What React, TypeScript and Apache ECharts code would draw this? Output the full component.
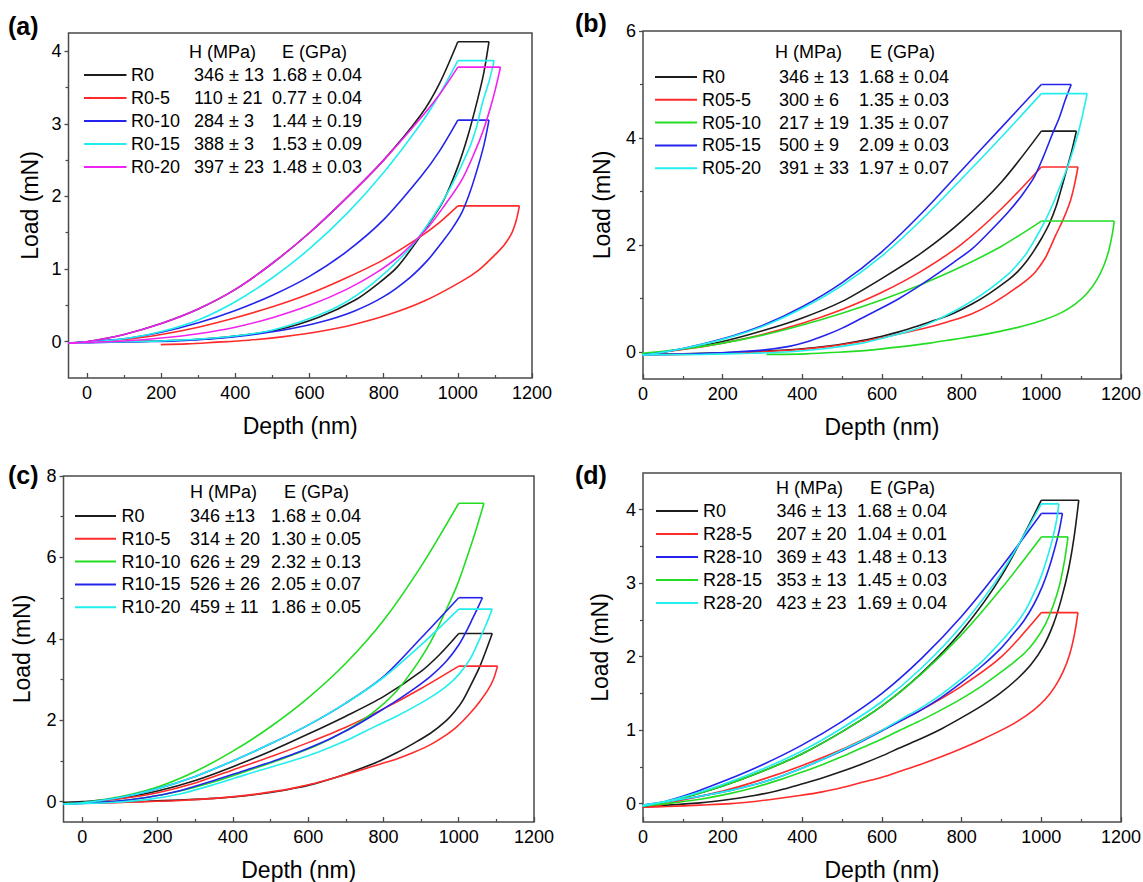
import React, { useEffect, useRef } from "react";
import * as echarts from "echarts";

type Pt = [number, number];

// ---------- axis ticks ----------
const X_TICKS = [0, 200, 400, 600, 800, 1000, 1200];
const X_MINOR = [100, 300, 500, 700, 900, 1100];
const A_YTICKS = [0, 1, 2, 3, 4];
const A_YMINOR = [0.5, 1.5, 2.5, 3.5];
const B_YTICKS = [0, 2, 4, 6];
const B_YMINOR = [1, 3, 5];
const C_YTICKS = [0, 2, 4, 6, 8];
const C_YMINOR = [1, 3, 5, 7];
const D_YTICKS = [0, 1, 2, 3, 4];
const D_YMINOR = [0.5, 1.5, 2.5, 3.5];

// ---------- panel (a) ----------
const A0_LOAD: Pt[] = [[-50, -0.02], [0, 0], [100, 0.1], [200, 0.25], [300, 0.45], [400, 0.72], [500, 1.08], [600, 1.5], [700, 1.98], [800, 2.5], [900, 3.12], [950, 3.55], [1000, 4.13]];
const A0_UNLOAD: Pt[] = [[1084, 4.13], [1070, 3.7], [1053, 3.33], [1028, 2.85], [1000, 2.41], [962, 1.95], [904, 1.49], [837, 1.03], [780, 0.78], [722, 0.57], [627, 0.34], [512, 0.16], [388, 0.07], [290, 0.03], [196, 0.01], [100, 0], [0, -0.01], [-50, -0.02]];
const A5_LOAD: Pt[] = [[-50, -0.02], [0, 0], [100, 0.03], [200, 0.1], [300, 0.2], [400, 0.33], [500, 0.48], [600, 0.66], [700, 0.88], [800, 1.13], [900, 1.45], [950, 1.64], [1000, 1.87]];
const A5_UNLOAD: Pt[] = [[1166, 1.87], [1158, 1.68], [1145, 1.49], [1125, 1.33], [1105, 1.22], [1057, 0.99], [1010, 0.83], [914, 0.57], [818, 0.38], [722, 0.24], [627, 0.14], [531, 0.07], [435, 0.02], [340, -0.01], [270, -0.03], [199, -0.04]];
const A10_LOAD: Pt[] = [[-50, -0.02], [0, 0], [100, 0.04], [200, 0.13], [300, 0.26], [400, 0.43], [500, 0.64], [600, 0.9], [700, 1.24], [800, 1.68], [900, 2.27], [950, 2.62], [1000, 3.05]];
const A10_UNLOAD: Pt[] = [[1084, 3.05], [1070, 2.7], [1048, 2.3], [1030, 2.02], [1010, 1.77], [985, 1.56], [962, 1.4], [920, 1.13], [870, 0.88], [800, 0.62], [720, 0.42], [630, 0.27], [530, 0.16], [435, 0.09], [340, 0.04], [240, 0.01], [140, 0], [40, -0.01], [-50, -0.02]];
const A15_LOAD: Pt[] = [[-50, -0.02], [0, -0.01], [100, 0.04], [200, 0.14], [300, 0.3], [400, 0.55], [500, 0.88], [600, 1.28], [700, 1.76], [800, 2.33], [900, 3.0], [950, 3.4], [1000, 3.87]];
const A15_UNLOAD: Pt[] = [[1098, 3.87], [1085, 3.6], [1067, 3.3], [1050, 2.95], [1029, 2.64], [981, 2.13], [933, 1.72], [866, 1.26], [770, 0.8], [675, 0.48], [579, 0.28], [483, 0.14], [340, 0.05], [200, 0.01], [100, 0], [0, -0.01], [-50, -0.02]];
const A20_LOAD: Pt[] = [[-50, -0.02], [0, 0], [100, 0.1], [200, 0.25], [300, 0.45], [400, 0.72], [500, 1.08], [600, 1.5], [700, 1.98], [800, 2.5], [900, 3.08], [950, 3.4], [1000, 3.78]];
const A20_UNLOAD: Pt[] = [[1115, 3.78], [1100, 3.45], [1086, 3.19], [1068, 2.9], [1048, 2.64], [1010, 2.22], [962, 1.86], [914, 1.54], [847, 1.2], [780, 0.95], [700, 0.72], [600, 0.5], [500, 0.33], [400, 0.2], [300, 0.11], [200, 0.05], [100, 0.01], [0, -0.01], [-50, -0.02]];

// ---------- panel (b) ----------
const B0_LOAD: Pt[] = [[-50, -0.05], [0, -0.04], [100, 0.06], [200, 0.2], [300, 0.4], [400, 0.64], [500, 0.95], [600, 1.38], [700, 1.86], [800, 2.45], [900, 3.18], [1000, 4.13]];
const B0_UNLOAD: Pt[] = [[1088, 4.13], [1076, 3.75], [1064, 3.42], [1050, 3.05], [1037, 2.72], [1020, 2.4], [1000, 2.12], [980, 1.88], [963, 1.7], [940, 1.5], [917, 1.35], [870, 1.1], [826, 0.9], [780, 0.73], [734, 0.6], [690, 0.49], [642, 0.38], [600, 0.3], [550, 0.22], [470, 0.12], [394, 0.06], [300, 0.02], [200, -0.01], [100, -0.03], [0, -0.04]];
const B5_LOAD: Pt[] = [[-50, -0.05], [0, -0.04], [100, 0.05], [200, 0.17], [300, 0.33], [400, 0.54], [500, 0.8], [600, 1.12], [700, 1.52], [800, 2.02], [900, 2.68], [1000, 3.46]];
const B5_UNLOAD: Pt[] = [[1092, 3.46], [1083, 3.12], [1073, 2.83], [1056, 2.5], [1037, 2.2], [1022, 1.95], [1009, 1.75], [985, 1.5], [960, 1.33], [917, 1.1], [870, 0.88], [826, 0.72], [780, 0.6], [734, 0.5], [690, 0.42], [642, 0.34], [600, 0.27], [550, 0.2], [470, 0.11], [394, 0.05], [300, 0.01], [200, -0.02], [100, -0.04], [0, -0.05]];
const B10_LOAD: Pt[] = [[-50, -0.05], [0, -0.02], [100, 0.06], [200, 0.17], [300, 0.32], [400, 0.51], [500, 0.73], [600, 0.98], [700, 1.27], [800, 1.6], [900, 1.98], [1000, 2.45]];
const B10_UNLOAD: Pt[] = [[1183, 2.45], [1178, 2.2], [1170, 1.92], [1158, 1.64], [1140, 1.36], [1115, 1.1], [1085, 0.9], [1048, 0.73], [1005, 0.6], [950, 0.48], [896, 0.39], [840, 0.31], [780, 0.24], [720, 0.17], [645, 0.1], [570, 0.04], [490, 0.0], [410, -0.03], [310, -0.04]];
const B15_LOAD: Pt[] = [[-50, -0.06], [0, -0.05], [100, 0.07], [200, 0.25], [300, 0.5], [400, 0.85], [500, 1.3], [600, 1.88], [700, 2.6], [800, 3.4], [900, 4.2], [1000, 5.0]];
const B15_UNLOAD: Pt[] = [[1075, 5.0], [1060, 4.71], [1045, 4.38], [1028, 4.08], [1005, 3.65], [982, 3.27], [950, 2.92], [917, 2.62], [870, 2.25], [826, 1.93], [780, 1.68], [734, 1.44], [690, 1.22], [642, 1.0], [600, 0.83], [550, 0.64], [500, 0.45], [459, 0.32], [410, 0.19], [367, 0.11], [300, 0.04], [220, 0.0], [120, -0.03], [0, -0.05]];
const B20_LOAD: Pt[] = [[-50, -0.06], [0, -0.05], [100, 0.07], [200, 0.24], [300, 0.48], [400, 0.82], [500, 1.25], [600, 1.8], [700, 2.48], [800, 3.24], [900, 4.02], [1000, 4.83]];
const B20_UNLOAD: Pt[] = [[1115, 4.83], [1104, 4.45], [1092, 4.08], [1070, 3.55], [1046, 3.08], [1028, 2.75], [1009, 2.45], [985, 2.12], [963, 1.85], [940, 1.64], [917, 1.46], [870, 1.18], [826, 0.96], [780, 0.76], [734, 0.59], [690, 0.45], [642, 0.34], [595, 0.25], [550, 0.17], [460, 0.07], [370, 0.01], [270, -0.02], [150, -0.04], [0, -0.05]];

// ---------- panel (c) ----------
const C0_LOAD: Pt[] = [[-50, -0.02], [0, 0], [100, 0.08], [200, 0.26], [300, 0.52], [400, 0.86], [500, 1.24], [600, 1.66], [700, 2.1], [800, 2.58], [900, 3.2], [950, 3.62], [1000, 4.13]];
const C0_UNLOAD: Pt[] = [[1089, 4.13], [1072, 3.7], [1055, 3.3], [1033, 2.88], [1011, 2.49], [990, 2.22], [967, 1.99], [925, 1.68], [878, 1.42], [835, 1.2], [790, 1.0], [745, 0.83], [701, 0.68], [657, 0.55], [613, 0.43], [570, 0.34], [524, 0.26], [440, 0.15], [350, 0.08], [259, 0.04], [170, 0.01], [80, -0.01], [-50, -0.02]];
const C5_LOAD: Pt[] = [[-50, -0.05], [0, -0.03], [100, 0.07], [200, 0.22], [300, 0.46], [400, 0.78], [500, 1.1], [600, 1.45], [700, 1.83], [800, 2.28], [900, 2.78], [1000, 3.33]];
const C5_UNLOAD: Pt[] = [[1103, 3.33], [1092, 3.0], [1076, 2.72], [1055, 2.45], [1033, 2.2], [1011, 1.98], [990, 1.8], [967, 1.64], [925, 1.4], [878, 1.2], [835, 1.05], [790, 0.92], [745, 0.79], [701, 0.67], [657, 0.55], [613, 0.44], [570, 0.35], [524, 0.27], [440, 0.16], [350, 0.08], [259, 0.03], [170, 0.0], [80, -0.03], [-50, -0.05]];
const C10_LOAD: Pt[] = [[-50, -0.05], [0, -0.02], [100, 0.12], [200, 0.36], [300, 0.74], [400, 1.24], [500, 1.84], [600, 2.55], [700, 3.4], [800, 4.45], [900, 5.78], [1000, 7.33]];
const C10_UNLOAD: Pt[] = [[1067, 7.33], [1045, 6.65], [1020, 5.95], [995, 5.3], [967, 4.72], [925, 3.92], [878, 3.23], [835, 2.72], [790, 2.32], [745, 2.0], [701, 1.75], [657, 1.53], [613, 1.34], [525, 1.03], [436, 0.75], [350, 0.49], [259, 0.26], [170, 0.1], [80, 0.0], [-50, -0.05]];
const C15_LOAD: Pt[] = [[-50, -0.06], [0, -0.03], [100, 0.1], [200, 0.32], [300, 0.62], [400, 1.0], [500, 1.42], [600, 1.88], [700, 2.42], [800, 3.07], [900, 4.02], [1000, 5.01]];
const C15_UNLOAD: Pt[] = [[1063, 5.01], [1050, 4.75], [1037, 4.5], [1020, 4.18], [1000, 3.85], [967, 3.45], [925, 3.08], [878, 2.75], [835, 2.48], [790, 2.22], [745, 1.97], [701, 1.74], [657, 1.54], [613, 1.36], [570, 1.2], [524, 1.05], [480, 0.91], [436, 0.78], [350, 0.52], [259, 0.27], [170, 0.1], [80, 0.0], [-50, -0.06]];
const C20_LOAD: Pt[] = [[-50, -0.06], [0, -0.03], [100, 0.1], [200, 0.32], [300, 0.62], [400, 1.0], [500, 1.42], [600, 1.88], [700, 2.42], [800, 3.05], [900, 3.85], [1000, 4.73]];
const C20_UNLOAD: Pt[] = [[1089, 4.73], [1075, 4.4], [1055, 3.98], [1030, 3.5], [1000, 3.12], [967, 2.83], [925, 2.56], [878, 2.31], [835, 2.1], [790, 1.9], [745, 1.7], [701, 1.5], [657, 1.33], [613, 1.17], [570, 1.04], [524, 0.91], [480, 0.79], [436, 0.67], [350, 0.42], [259, 0.19], [170, 0.05], [80, -0.02], [-50, -0.06]];

// ---------- panel (d) ----------
const D0_LOAD: Pt[] = [[-50, -0.04], [0, -0.03], [100, 0.08], [200, 0.24], [300, 0.44], [400, 0.68], [500, 0.98], [600, 1.33], [700, 1.78], [800, 2.35], [900, 3.1], [1000, 4.13]];
const D0_UNLOAD: Pt[] = [[1094, 4.13], [1082, 3.62], [1068, 3.18], [1050, 2.78], [1030, 2.44], [1005, 2.14], [975, 1.9], [940, 1.7], [896, 1.5], [850, 1.33], [800, 1.17], [750, 1.02], [700, 0.89], [645, 0.76], [600, 0.65], [550, 0.54], [500, 0.44], [450, 0.35], [394, 0.26], [340, 0.18], [280, 0.11], [220, 0.06], [143, 0.01], [60, -0.02], [0, -0.03]];
const D5_LOAD: Pt[] = [[-50, -0.05], [0, -0.05], [100, 0.05], [200, 0.17], [300, 0.33], [400, 0.52], [500, 0.74], [600, 1.0], [700, 1.28], [800, 1.6], [900, 2.0], [1000, 2.6]];
const D5_UNLOAD: Pt[] = [[1092, 2.6], [1083, 2.3], [1071, 2.03], [1055, 1.8], [1035, 1.6], [1010, 1.42], [980, 1.27], [940, 1.12], [900, 1.0], [850, 0.87], [800, 0.75], [750, 0.64], [700, 0.54], [645, 0.44], [600, 0.36], [550, 0.29], [500, 0.22], [450, 0.16], [394, 0.11], [340, 0.07], [280, 0.03], [220, 0.0], [143, -0.02], [60, -0.04], [0, -0.05]];
const D10_LOAD: Pt[] = [[-50, -0.05], [0, -0.04], [100, 0.1], [200, 0.3], [300, 0.53], [400, 0.8], [500, 1.12], [600, 1.5], [700, 1.98], [800, 2.55], [900, 3.22], [1000, 3.95]];
const D10_UNLOAD: Pt[] = [[1053, 3.95], [1045, 3.72], [1035, 3.5], [1020, 3.22], [1002, 2.95], [980, 2.7], [955, 2.48], [925, 2.28], [896, 2.1], [850, 1.87], [800, 1.65], [750, 1.45], [700, 1.28], [645, 1.12], [600, 0.99], [550, 0.85], [500, 0.72], [450, 0.6], [394, 0.47], [340, 0.36], [280, 0.26], [220, 0.18], [143, 0.1], [60, 0.03], [0, -0.02]];
const D15_LOAD: Pt[] = [[-50, -0.04], [0, -0.03], [100, 0.08], [200, 0.24], [300, 0.44], [400, 0.68], [500, 0.98], [600, 1.33], [700, 1.77], [800, 2.3], [900, 2.93], [1000, 3.63]];
const D15_UNLOAD: Pt[] = [[1067, 3.63], [1058, 3.3], [1046, 2.98], [1030, 2.7], [1010, 2.44], [985, 2.22], [960, 2.06], [930, 1.92], [896, 1.78], [850, 1.6], [800, 1.43], [750, 1.28], [700, 1.14], [645, 1.0], [600, 0.88], [550, 0.76], [500, 0.64], [450, 0.53], [394, 0.42], [340, 0.32], [280, 0.22], [220, 0.14], [143, 0.06], [60, 0.0], [0, -0.03]];
const D20_LOAD: Pt[] = [[-50, -0.04], [0, -0.03], [100, 0.09], [200, 0.26], [300, 0.47], [400, 0.72], [500, 1.03], [600, 1.39], [700, 1.85], [800, 2.42], [900, 3.14], [1000, 4.08]];
const D20_UNLOAD: Pt[] = [[1044, 4.08], [1038, 3.85], [1028, 3.6], [1015, 3.35], [1000, 3.1], [982, 2.87], [960, 2.63], [930, 2.4], [896, 2.19], [850, 1.93], [800, 1.7], [750, 1.49], [700, 1.31], [645, 1.14], [600, 1.0], [550, 0.86], [500, 0.73], [450, 0.6], [394, 0.47], [340, 0.36], [280, 0.26], [220, 0.18], [143, 0.1], [60, 0.03], [0, -0.02]];

// ---------- legend texts ----------
const A_NAMES = ["R0", "R0-5", "R0-10", "R0-15", "R0-20"];
const A_H = ["346 ± 13", "110 ± 21", "284 ± 3", "388 ± 3", "397 ± 23"];
const A_E = ["1.68 ± 0.04", "0.77 ± 0.04", "1.44 ± 0.19", "1.53 ± 0.09", "1.48 ± 0.03"];
const B_NAMES = ["R0", "R05-5", "R05-10", "R05-15", "R05-20"];
const B_H = ["346 ± 13", "300 ± 6", "217 ± 19", "500 ± 9", "391 ± 33"];
const B_E = ["1.68 ± 0.04", "1.35 ± 0.03", "1.35 ± 0.07", "2.09 ± 0.03", "1.97 ± 0.07"];
const C_NAMES = ["R0", "R10-5", "R10-10", "R10-15", "R10-20"];
const C_H = ["346 ±13", "314 ± 20", "626 ± 29", "526 ± 26", "459 ± 11"];
const C_E = ["1.68 ± 0.04", "1.30 ± 0.05", "2.32 ± 0.13", "2.05 ± 0.07", "1.86 ± 0.05"];
const D_NAMES = ["R0", "R28-5", "R28-10", "R28-15", "R28-20"];
const D_H = ["346 ± 13", "207 ± 20", "369 ± 43", "353 ± 13", "423 ± 23"];
const D_E = ["1.68 ± 0.04", "1.04 ± 0.01", "1.48 ± 0.13", "1.45 ± 0.03", "1.69 ± 0.04"];

// ---------- styling ----------
const FONT = '"Liberation Sans", Arial, Helvetica, sans-serif';
const BLACK = "#1c1c1c";
const RED = "#ff2a2a";
const BLUE = "#2424ee";
const CYAN = "#22eeee";
const MAGENTA = "#f022f0";
const GREEN = "#22dd22";
const AXIS = "#4a4a4a";

interface Curve { color: string; load: Pt[]; unload: Pt[] }
interface Panel {
  label: string; labelX: number; labelY: number;
  grid: { left: number; top: number; width: number; height: number };
  xMin: number; yMin: number; yMax: number; yTicks: number[]; yMinor: number[];
  xNameGap: number; yNameGap: number;
  curves: Curve[]; names: string[]; hVals: string[]; eVals: string[];
  lg: { headerY: number; hX: number; eX: number; rowY0: number; rowStep: number; l0: number; l1: number; nameX: number; hValX: number; eValX: number };
}

const PANELS: Panel[] = [
  {
    label: "(a)", labelX: 8, labelY: 26,
    grid: { left: 68.5, top: 33, width: 463.5, height: 345 },
    xMin: -50, yMin: -0.5, yMax: 4.25, yTicks: A_YTICKS, yMinor: A_YMINOR, xNameGap: 36, yNameGap: 27,
    curves: [
      { color: BLACK, load: A0_LOAD, unload: A0_UNLOAD },
      { color: RED, load: A5_LOAD, unload: A5_UNLOAD },
      { color: BLUE, load: A10_LOAD, unload: A10_UNLOAD },
      { color: CYAN, load: A15_LOAD, unload: A15_UNLOAD },
      { color: MAGENTA, load: A20_LOAD, unload: A20_UNLOAD },
    ],
    names: A_NAMES, hVals: A_H, eVals: A_E,
    lg: { headerY: 52, hX: 189, eX: 282, rowY0: 75, rowStep: 23, l0: 84, l1: 126.5, nameX: 131, hValX: 194, eValX: 272 },
  },
  {
    label: "(b)", labelX: 575, labelY: 23,
    grid: { left: 643, top: 31, width: 478, height: 348 },
    xMin: 0, yMin: -0.5, yMax: 6, yTicks: B_YTICKS, yMinor: B_YMINOR, xNameGap: 36, yNameGap: 30,
    curves: [
      { color: BLACK, load: B0_LOAD, unload: B0_UNLOAD },
      { color: RED, load: B5_LOAD, unload: B5_UNLOAD },
      { color: GREEN, load: B10_LOAD, unload: B10_UNLOAD },
      { color: BLUE, load: B15_LOAD, unload: B15_UNLOAD },
      { color: CYAN, load: B20_LOAD, unload: B20_UNLOAD },
    ],
    names: B_NAMES, hVals: B_H, eVals: B_E,
    lg: { headerY: 52, hX: 775, eX: 870, rowY0: 77, rowStep: 22.8, l0: 655, l1: 697, nameX: 702, hValX: 779, eValX: 859 },
  },
  {
    label: "(c)", labelX: 8, labelY: 475,
    grid: { left: 63.5, top: 476, width: 470.5, height: 346 },
    xMin: -50, yMin: -0.5, yMax: 8, yTicks: C_YTICKS, yMinor: C_YMINOR, xNameGap: 36, yNameGap: 30,
    curves: [
      { color: BLACK, load: C0_LOAD, unload: C0_UNLOAD },
      { color: RED, load: C5_LOAD, unload: C5_UNLOAD },
      { color: GREEN, load: C10_LOAD, unload: C10_UNLOAD },
      { color: BLUE, load: C15_LOAD, unload: C15_UNLOAD },
      { color: CYAN, load: C20_LOAD, unload: C20_UNLOAD },
    ],
    names: C_NAMES, hVals: C_H, eVals: C_E,
    lg: { headerY: 492, hX: 190, eX: 284, rowY0: 516, rowStep: 22.8, l0: 75, l1: 116, nameX: 121.5, hValX: 190, eValX: 271 },
  },
  {
    label: "(d)", labelX: 575, labelY: 475,
    grid: { left: 643, top: 473, width: 478, height: 349 },
    xMin: 0, yMin: -0.25, yMax: 4.5, yTicks: D_YTICKS, yMinor: D_YMINOR, xNameGap: 36, yNameGap: 32,
    curves: [
      { color: BLACK, load: D0_LOAD, unload: D0_UNLOAD },
      { color: RED, load: D5_LOAD, unload: D5_UNLOAD },
      { color: BLUE, load: D10_LOAD, unload: D10_UNLOAD },
      { color: GREEN, load: D15_LOAD, unload: D15_UNLOAD },
      { color: CYAN, load: D20_LOAD, unload: D20_UNLOAD },
    ],
    names: D_NAMES, hVals: D_H, eVals: D_E,
    lg: { headerY: 488, hX: 776, eX: 870, rowY0: 511, rowStep: 23, l0: 656, l1: 698, nameX: 703, hValX: 776.5, eValX: 857 },
  },
];

const TICK_FONT = 18;
const LEGEND_FONT = 18;
const NAME_FONT = 23;

function buildOption() {
  const grids: any[] = [];
  const xAxes: any[] = [];
  const yAxes: any[] = [];
  const series: any[] = [];
  const graphics: any[] = [];
  const n = PANELS.length;
  const fmt = (v: number) => String(v);

  PANELS.forEach((p, i) => {
    grids.push({ ...p.grid, show: true, borderColor: AXIS, borderWidth: 1.5, backgroundColor: "transparent", containLabel: false, outerBoundsMode: "none" });
    xAxes.push({
      type: "value", gridIndex: i, min: p.xMin, max: 1200,
      axisLine: { show: false, onZero: false }, splitLine: { show: false },
      axisTick: { show: true, inside: true, length: 5, customValues: X_TICKS, lineStyle: { color: AXIS, width: 1.3 } },
      axisLabel: { customValues: X_TICKS, formatter: fmt, margin: 6, fontSize: TICK_FONT, color: "#000", fontFamily: FONT },
      name: "Depth (nm)", nameLocation: "middle", nameGap: p.xNameGap,
      nameTextStyle: { fontSize: NAME_FONT, color: "#000", fontFamily: FONT },
    });
    yAxes.push({
      type: "value", gridIndex: i, min: p.yMin, max: p.yMax,
      axisLine: { show: false, onZero: false }, splitLine: { show: false },
      axisTick: { show: true, inside: false, length: 4, customValues: p.yTicks, lineStyle: { color: AXIS, width: 1.3 } },
      axisLabel: { customValues: p.yTicks, formatter: fmt, margin: 7, fontSize: TICK_FONT, color: "#000", fontFamily: FONT },
      name: "Load (mN)", nameLocation: "middle", nameGap: p.yNameGap, nameRotate: 90,
      nameTextStyle: { fontSize: NAME_FONT, color: "#000", fontFamily: FONT },
    });

    p.curves.forEach((c) => {
      const base = {
        type: "line", xAxisIndex: i, yAxisIndex: i, symbol: "none", silent: true,
        clip: true, animation: false, lineStyle: { color: c.color, width: 1.6 }, itemStyle: { color: c.color },
      };
      const hold: Pt[] = [c.load[c.load.length - 1], c.unload[0]];
      series.push({ ...base, data: c.load, smooth: 0.3 });
      series.push({ ...base, data: hold });
      series.push({ ...base, data: c.unload, smooth: 0.3 });
    });

    graphics.push({
      type: "text", x: p.labelX, y: p.labelY,
      style: { text: p.label, font: `bold 25px ${FONT}`, fill: "#000", verticalAlign: "middle", align: "left" },
    });
    const L = p.lg;
    const txt = (t: string, x: number, y: number) => ({
      type: "text", x, y,
      style: { text: t, font: `${LEGEND_FONT}px ${FONT}`, fill: "#000", verticalAlign: "middle", align: "left" },
    });
    graphics.push(txt("H (MPa)", L.hX, L.headerY));
    graphics.push(txt("E (GPa)", L.eX, L.headerY));
    p.names.forEach((nm, k) => {
      const y = L.rowY0 + k * L.rowStep;
      graphics.push({ type: "line", shape: { x1: L.l0, y1: y, x2: L.l1, y2: y }, style: { stroke: p.curves[k].color, lineWidth: 2 } });
      graphics.push(txt(nm, L.nameX, y));
      graphics.push(txt(p.hVals[k], L.hValX, y));
      graphics.push(txt(p.eVals[k], L.eValX, y));
    });
  });

  // overlay grids carrying the minor ticks
  PANELS.forEach((p, i) => {
    const gi = n + i;
    grids.push({ ...p.grid, show: false, containLabel: false, outerBoundsMode: "none" });
    xAxes.push({
      type: "value", gridIndex: gi, min: p.xMin, max: 1200,
      axisLine: { show: false, onZero: false }, splitLine: { show: false }, axisLabel: { show: false },
      axisTick: { show: true, inside: true, length: 3, customValues: X_MINOR, lineStyle: { color: AXIS, width: 1.2 } },
    });
    yAxes.push({
      type: "value", gridIndex: gi, min: p.yMin, max: p.yMax,
      axisLine: { show: false, onZero: false }, splitLine: { show: false }, axisLabel: { show: false },
      axisTick: { show: true, inside: false, length: 3, customValues: p.yMinor, lineStyle: { color: AXIS, width: 1.2 } },
    });
  });

  return {
    animation: false,
    backgroundColor: "#ffffff",
    grid: grids,
    xAxis: xAxes,
    yAxis: yAxes,
    series,
    graphic: graphics,
  };
}

export default function App() {
  const ref = useRef<HTMLDivElement>(null);
  useEffect(() => {
    if (!ref.current) return;
    const chart = echarts.init(ref.current, undefined, { renderer: "svg" });
    chart.setOption(buildOption() as any);
    return () => chart.dispose();
  }, []);
  return (
    <div
      ref={ref}
      style={{ position: "fixed", left: 0, top: 0, width: 1143, height: 882, background: "#fff" }}
    />
  );
}
